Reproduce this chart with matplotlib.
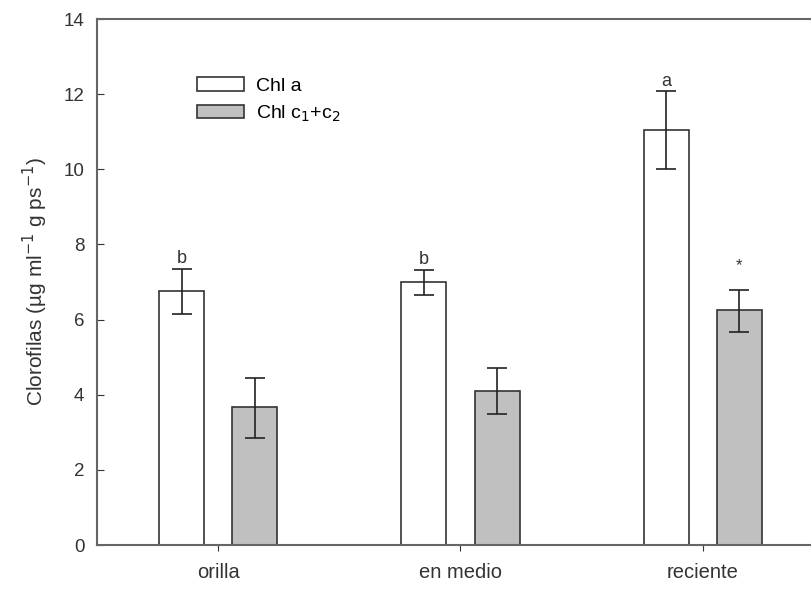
import matplotlib
matplotlib.use("Agg")
import matplotlib.pyplot as plt
import numpy as np
from matplotlib.patches import Patch

plt.rcParams['font.family'] = ['Liberation Sans', 'DejaVu Sans']

categories = ["orilla", "en medio", "reciente"]
chl_a = [6.76, 7.00, 11.05]
chl_a_lo = [6.15, 6.65, 10.00]
chl_a_hi = [7.35, 7.32, 12.08]
chl_c = [3.67, 4.10, 6.25]
chl_c_lo = [2.85, 3.49, 5.67]
chl_c_hi = [4.44, 4.71, 6.79]
letters_a = ["b", "b", "a"]
letters_c = ["", "", "*"]

fig = plt.figure(figsize=(8.12, 5.92), dpi=100)
ax = fig.add_axes([97/812, 47/592, (824-97)/812, 526/592])

x = np.arange(len(categories))
w = 0.186
off = 0.151
edge = '#333333'
txt = '#333333'

ea = [np.array(chl_a) - np.array(chl_a_lo), np.array(chl_a_hi) - np.array(chl_a)]
ec = [np.array(chl_c) - np.array(chl_c_lo), np.array(chl_c_hi) - np.array(chl_c)]

ax.bar(x - off, chl_a, w, color='white', edgecolor=edge, linewidth=1.2,
       yerr=ea, capsize=7, error_kw=dict(ecolor='#222222', elinewidth=1.2, capthick=1.2))
ax.bar(x + off, chl_c, w, color='#c0c0c0', edgecolor=edge, linewidth=1.2,
       yerr=ec, capsize=7, error_kw=dict(ecolor='#222222', elinewidth=1.2, capthick=1.2))

for i in range(len(categories)):
    if letters_a[i]:
        ax.text(x[i] - off, chl_a_hi[i] + 0.04, letters_a[i], ha='center', va='bottom',
                fontsize=13, color=txt)
    if letters_c[i]:
        ax.text(x[i] + off, chl_c_hi[i] + 0.45, letters_c[i], ha='center', va='bottom',
                fontsize=12, color=txt)

ax.set_xlim(-0.5, 2.5)
ax.set_ylim(0, 14)
ax.set_yticks(np.arange(0, 15, 2))
ax.set_xticks(x)
ax.set_xticklabels(categories, fontsize=14.5, color=txt)
ax.tick_params(axis='y', direction='in', length=5, labelsize=13.5, colors=txt, pad=9)
ax.tick_params(axis='x', direction='out', length=4, pad=9, colors=txt)
for s in ['left', 'bottom', 'top', 'right']:
    ax.spines[s].set_color('#666666')
    ax.spines[s].set_linewidth(1.5)

ax.set_ylabel("Clorofilas (µg ml$^{-1}$ g ps$^{-1}$)", fontsize=15, color=txt, labelpad=10)

handles = [Patch(facecolor='white', edgecolor=edge, linewidth=1.2),
           Patch(facecolor='#c0c0c0', edgecolor=edge, linewidth=1.2)]
ax.legend(handles, ["Chl a", "Chl c$_1$+c$_2$"], loc='upper left',
          bbox_to_anchor=(197/812, 1 - 77/592), bbox_transform=fig.transFigure,
          frameon=False, fontsize=14, borderpad=0, borderaxespad=0,
          handlelength=2.4, handleheight=0.7, handletextpad=0.65, labelspacing=0.45)

fig.savefig("out.png", dpi=100)
